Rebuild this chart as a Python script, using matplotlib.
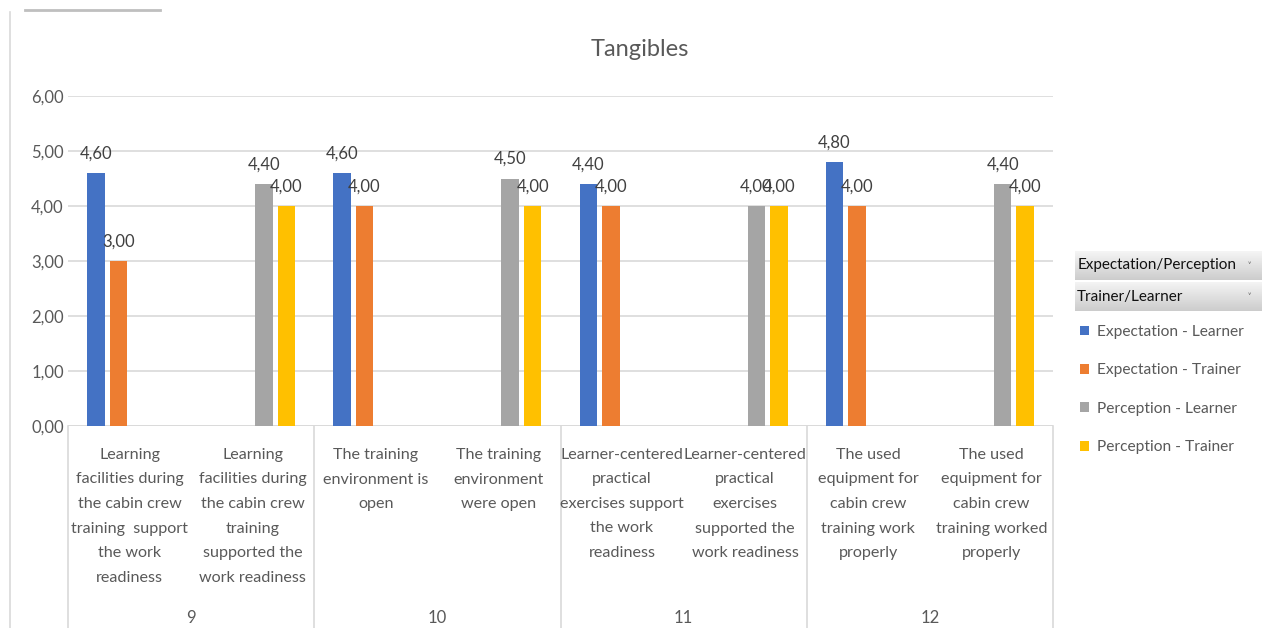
import numpy as np
import matplotlib
matplotlib.use("Agg")
import matplotlib.pyplot as plt
from matplotlib.transforms import blended_transform_factory, offset_copy

plt.rcParams["font.family"] = ["Lato", "DejaVu Sans"]

nan = np.nan

# ---------------------------------------------------------------------------
# Data
# ---------------------------------------------------------------------------
categories = [
    "Learning\nfacilities during\nthe cabin crew\ntraining  support\nthe work\nreadiness",
    "Learning\nfacilities during\nthe cabin crew\ntraining\nsupported the\nwork readiness",
    "The training\nenvironment is\nopen",
    "The training\nenvironment\nwere open",
    "Learner-centered\npractical\nexercises support\nthe work\nreadiness",
    "Learner-centered\npractical\nexercises\nsupported the\nwork readiness",
    "The used\nequipment for\ncabin crew\ntraining work\nproperly",
    "The used\nequipment for\ncabin crew\ntraining worked\nproperly",
]
groups = ["9", "10", "11", "12"]

exp_learner = [4.6, nan, 4.6, nan, 4.4, nan, 4.8, nan]
exp_trainer = [3.0, nan, 4.0, nan, 4.0, nan, 4.0, nan]
per_learner = [nan, 4.4, nan, 4.5, nan, 4.0, nan, 4.4]
per_trainer = [nan, 4.0, nan, 4.0, nan, 4.0, nan, 4.0]

series = [
    ("Expectation - Learner", exp_learner, "#4472c4"),
    ("Expectation - Trainer", exp_trainer, "#ed7d31"),
    ("Perception - Learner", per_learner, "#a5a5a5"),
    ("Perception - Trainer", per_trainer, "#ffc000"),
]
yticks = [0, 1, 2, 3, 4, 5, 6]

TEXT = "#595959"
GRID = "#d9d9d9"

# ---------------------------------------------------------------------------
# Figure
# ---------------------------------------------------------------------------
W, H = 1265, 628
fig = plt.figure(figsize=(W / 100, H / 100), dpi=100)
ax = fig.add_axes([68 / W, (H - 426) / H, (1053 - 68) / W, 330 / H])

x = np.arange(len(categories))
slot = 0.183
bar_w = 0.142
handles = []
for i, (name, vals, color) in enumerate(series):
    vals = np.array(vals, dtype=float)
    pos = x + (i - 1.5) * slot
    b = ax.bar(pos, vals, width=bar_w, color=color, label=name, zorder=3)
    handles.append(b)
    for px, v in zip(pos, vals):
        if np.isnan(v):
            continue
        ax.annotate(f"{v:.2f}".replace(".", ","), (px, v), xytext=(0, 8.5),
                    textcoords="offset points", ha="center", va="bottom",
                    fontsize=12, color="#404040", zorder=4)

ax.set_xlim(-0.5, len(categories) - 0.5)
ax.set_ylim(0, 6)
ax.set_yticks(yticks)
ax.set_yticklabels([f"{t:.2f}".replace(".", ",") for t in yticks],
                   fontsize=12, color=TEXT)
ax.tick_params(axis="y", length=0, pad=3)
ax.set_xticks([])
ax.grid(axis="y", color=GRID, linewidth=1.2, zorder=0)
for s in ax.spines.values():
    s.set_visible(False)
ax.axhline(0, color=GRID, linewidth=1.2, zorder=2)

# multi-level category axis: wrapped item labels, then the group row
trans = blended_transform_factory(ax.transData, ax.transAxes)
for xb in [-0.5, 1.5, 3.5, 5.5, 7.5]:
    ax.plot([xb, xb], [0, -0.7], color=GRID, linewidth=1.2,
            transform=trans, clip_on=False)
line_pitch = 24.5   # px between wrapped lines
for xi, lab in zip(x, categories):
    for k, line in enumerate(lab.split("\n")):
        tr = offset_copy(trans, fig=fig, y=-(33 + k * line_pitch), units="dots")
        ax.text(xi, 0, line, transform=tr, ha="center", va="baseline",
                fontsize=11.6, color=TEXT)
for gi, g in enumerate(groups):
    tr = offset_copy(trans, fig=fig, y=-192, units="dots")
    ax.text(2 * gi + 0.5, 0, g, transform=tr, ha="center",
            va="center", fontsize=12, color=TEXT)

fig.text(640 / W, 1 - 50 / H, "Tangibles", ha="center", va="center",
         fontsize=17, color=TEXT)

# chart frame bits
fig.add_artist(plt.Line2D([10 / W, 10 / W], [1 - 12 / H, 0],
                          color=GRID, linewidth=1.2))
fig.add_artist(plt.Line2D([25 / W, 160 / W], [1 - 10 / H, 1 - 10 / H],
                          color="#bfbfbf", linewidth=2))

# pivot field buttons
grad = np.linspace(0.96, 0.80, 64).reshape(-1, 1)
for top, label in [(251, "Expectation/Perception"), (282, "Trainer/Learner")]:
    bax = fig.add_axes([1075 / W, 1 - (top + 29) / H, 187 / W, 29 / H])
    bax.imshow(grad, aspect="auto", cmap="gray", vmin=0, vmax=1,
               extent=[0, 1, 0, 1])
    bax.set_axis_off()
    bax.text(0.012, 0.5, label, ha="left", va="center", fontsize=11,
             color="#111111", transform=bax.transAxes)
    bax.text(0.93, 0.55, "\u02c5", ha="center", va="center", fontsize=5,
             color="#555555", transform=bax.transAxes)

leg = fig.legend(handles=handles, loc="upper left",
                 bbox_to_anchor=(1066 / W, 1 - 311 / H), frameon=False,
                 fontsize=11.2, handlelength=0.6, handleheight=0.6,
                 handletextpad=0.5, labelspacing=1.57)
for t in leg.get_texts():
    t.set_color(TEXT)

fig.savefig("out.png", dpi=100)
